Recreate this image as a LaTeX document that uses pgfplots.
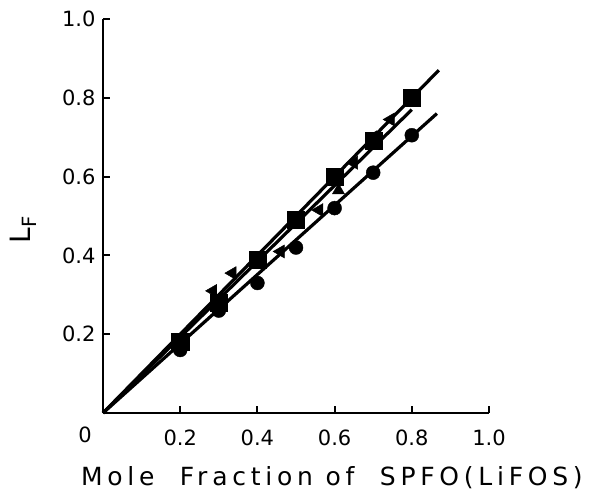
\documentclass[border=0pt]{standalone}
\usepackage{fontspec}
\setmainfont{DejaVu Sans}
\newfontfamily\labelfont[LetterSpace=19]{DejaVu Sans}
\usepackage{pgfplots}
\pgfplotsset{compat=1.18}
\begin{document}
\begin{tikzpicture}
\begin{axis}[
  scale only axis,
  width=386pt, height=394pt,
  xmin=0, xmax=1, ymin=0, ymax=1,
  axis lines=left,
  axis line style={-, line width=2.6pt},
  tick style={line width=2pt, black},
  major tick length=7pt,
  tick align=inside,
  xtick={0.2,0.4,0.6,0.8,1.0},
  xticklabels={0.2,0.4,0.6,0.8,1.0},
  ytick={0.2,0.4,0.6,0.8,1.0},
  yticklabels={0.2,0.4,0.6,0.8,1.0},
  ticklabel style={font=\fontsize{21}{23}\selectfont},
  xticklabel style={yshift=-13pt},
  yticklabel style={xshift=-4pt},
  xlabel={\labelfont\fontsize{25}{27}\selectfont Mole\ \ Fraction of\ \ SPFO(LiFOS)},
  xlabel style={at={(rel axis cs:0.593,0)}, anchor=center, yshift=-65pt},
  clip=false,
]
% regression lines
\addplot[line width=3.2pt, black] coordinates {(0,0) (0.87,0.87)};
\addplot[line width=3.2pt, black] coordinates {(0,0) (0.80,0.77)};
\addplot[line width=3.2pt, black] coordinates {(0,0) (0.865,0.76)};
% squares
\addplot[only marks, mark=square*, mark size=8.5pt, black] coordinates {
(0.2,0.18) (0.3,0.28) (0.4,0.39) (0.5,0.49) (0.6,0.60) (0.7,0.69) (0.8,0.80)};
% left-pointing triangles
\addplot[only marks, mark=triangle*, mark size=7.5pt, black, mark options={rotate=90}] coordinates {
(0.2,0.19) (0.285,0.31) (0.335,0.355) (0.46,0.41) (0.56,0.515) (0.65,0.635) (0.70,0.70) (0.745,0.745)};
% up triangles
\addplot[only marks, mark=triangle*, mark size=7pt, black] coordinates {
(0.61,0.565) (0.31,0.29)};
% circles
\addplot[only marks, mark=*, mark size=7pt, black] coordinates {
(0.2,0.16) (0.3,0.26) (0.4,0.33) (0.5,0.42) (0.6,0.52) (0.7,0.61) (0.8,0.705)};
\node[font=\fontsize{21}{23}\selectfont] at (rel axis cs:0,0) [xshift=-18pt, yshift=-22pt] {0};
\node[xshift=-80pt, rotate=90, font=\fontsize{28}{30}\selectfont] at (rel axis cs:0,0.465) {L\textsubscript{F}};
\end{axis}
\pgfresetboundingbox
\path[use as bounding box] (-103pt,-80pt) rectangle (491pt,413pt);
\end{tikzpicture}
\end{document}
